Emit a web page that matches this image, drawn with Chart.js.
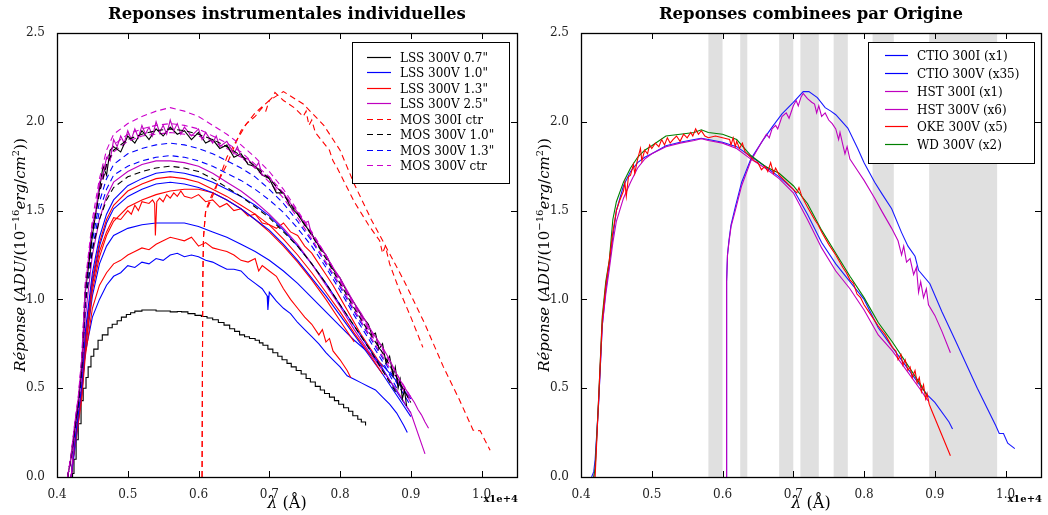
<!DOCTYPE html>
<html>
<head>
<meta charset="utf-8">
<script src="https://cdn.jsdelivr.net/npm/chart.js@4.4.1/dist/chart.umd.min.js"></script>
<style>
  body { margin: 0; background: #fff; }
  #wrap { position: relative; width: 1048px; height: 515px; }
  canvas { position: absolute; top: 0; }
</style>
</head>
<body>
<div id="wrap">
  <canvas id="left" width="524" height="515" style="left:0"></canvas>
  <canvas id="right" width="524" height="515" style="left:524px"></canvas>
</div>
<script>
// ---- axes / ticks ----
const xTicks = [0.4, 0.5, 0.6, 0.7, 0.8, 0.9, 1.0];
const xTickLabels = ["0.4", "0.5", "0.6", "0.7", "0.8", "0.9", "1.0"];
const yTicks = [0, 0.5, 1.0, 1.5, 2.0, 2.5];
const yTickLabels = ["0.0", "0.5", "1.0", "1.5", "2.0", "2.5"];

// ---- left panel: individual responses (lambda in 1e4 A) ----
const lamL = [0.415,0.42,0.425,0.43,0.435,0.44,0.45,0.46,0.47,0.48,0.5,0.52,0.54,0.56,0.58,0.6,0.62,0.64,0.66,0.68,0.7,0.72,0.74,0.76,0.78,0.8,0.82,0.84,0.86,0.88,0.9,0.92,0.925];

const mosCtrA = [0,0.13,0.3,0.45,0.68,1.1,1.45,1.68,1.84,1.93,1.99,2.03,2.06,2.08,2.06,2.03,1.98,1.93,1.87,1.8,1.72,1.62,1.5,1.38,1.25,1.11,0.97,0.84,0.72,0.58,0.45];
const mosCtrB = [0,0.12,0.29,0.44,0.66,1.08,1.41,1.63,1.79,1.87,1.93,1.96,1.98,1.99,1.98,1.96,1.92,1.88,1.83,1.76,1.69,1.6,1.49,1.37,1.24,1.1,0.96,0.83,0.7,0.56,0.43];
const mosCtrC = [0,0.11,0.28,0.43,0.64,1.05,1.38,1.6,1.75,1.83,1.89,1.92,1.93,1.94,1.93,1.92,1.89,1.85,1.8,1.74,1.66,1.57,1.46,1.34,1.21,1.08,0.94,0.81,0.68,0.55,0.42];
const lss25B = [null,0,0.25,0.4,0.58,0.9,1.25,1.45,1.58,1.66,1.72,1.76,1.78,1.78,1.77,1.75,1.71,1.66,1.61,1.55,1.48,1.4,1.31,1.2,1.08,0.96,0.83,0.71,0.6,0.49,0.36,0.13];
const mos10A = [0,0.12,0.28,0.42,0.64,1.06,1.38,1.6,1.76,1.84,1.9,1.93,1.95,1.96,1.95,1.93,1.9,1.86,1.81,1.75,1.68,1.59,1.48,1.36,1.23,1.09,0.95,0.82,0.7,0.56,0.42];
const mos10B = [0,0.1,0.26,0.4,0.6,0.98,1.28,1.45,1.56,1.63,1.69,1.72,1.74,1.75,1.74,1.72,1.68,1.63,1.58,1.52,1.46,1.38,1.3,1.2,1.09,0.97,0.85,0.73,0.6,0.47];
const mos13A = [0,0.11,0.27,0.41,0.62,1.02,1.33,1.55,1.68,1.76,1.82,1.85,1.87,1.88,1.87,1.85,1.82,1.78,1.74,1.69,1.62,1.54,1.44,1.33,1.2,1.07,0.93,0.8,0.67,0.53,0.4];
const mos13B = [0,0.11,0.26,0.4,0.6,0.97,1.28,1.5,1.62,1.7,1.75,1.78,1.8,1.81,1.8,1.78,1.75,1.71,1.67,1.62,1.56,1.49,1.4,1.3,1.18,1.05,0.91,0.78,0.65,0.5];
const lss10A = [null,0,0.2,0.35,0.52,0.82,1.15,1.35,1.48,1.56,1.64,1.68,1.71,1.72,1.71,1.69,1.66,1.62,1.58,1.53,1.47,1.39,1.3,1.2,1.09,0.97,0.85,0.73,0.61,0.48,0.36];
const lss10B = [null,0,0.19,0.34,0.5,0.78,1.1,1.3,1.43,1.51,1.58,1.62,1.65,1.66,1.65,1.63,1.6,1.56,1.51,1.45,1.39,1.31,1.22,1.12,1.02,0.91,0.8,0.69,0.58,0.46,0.34];
const lss10C = [null,0,0.18,0.32,0.47,0.72,1.02,1.2,1.3,1.36,1.4,1.42,1.43,1.43,1.43,1.41,1.38,1.35,1.31,1.27,1.22,1.16,1.09,1.01,0.93,0.85,0.77,0.7,0.63,0.54,0.44];
const lss13Step = [null,0,0.2,0.34,0.5,0.78,1.12,1.32,1.45,1.53,1.61,1.65,1.68,1.69,1.68,1.66,1.62,1.58,1.53,1.48,1.42,1.34,1.25,1.15,1.04,0.93,0.81,0.7,0.58];
const lss13Smooth = [null,0,0.18,0.32,0.46,0.72,1.05,1.24,1.36,1.44,1.52,1.56,1.59,1.61,1.62,1.62,1.6,1.56,1.51,1.45,1.38,1.3,1.21,1.11,1.0,0.88,0.76];

// noisy / irregular curves as (lambda, response) pairs
const lss25A = [[0.415,0],[0.42,0.12],[0.425,0.3],[0.43,0.44],[0.435,0.65],[0.44,1.06],[0.445,1.25],[0.45,1.42],[0.455,1.5],[0.46,1.66],[0.465,1.7],[0.47,1.8],[0.475,1.78],[0.48,1.9],[0.485,1.86],[0.49,1.92],[0.495,1.88],[0.5,1.95],[0.505,1.9],[0.51,1.96],[0.515,1.91],[0.52,1.98],[0.525,1.93],[0.53,1.97],[0.535,1.92],[0.54,2.0],[0.545,1.94],[0.55,1.98],[0.555,1.93],[0.56,2.01],[0.565,1.95],[0.57,1.99],[0.575,1.93],[0.58,1.97],[0.59,1.92],[0.6,1.96],[0.605,1.9],[0.61,1.94],[0.62,1.88],[0.625,1.92],[0.63,1.86],[0.64,1.89],[0.65,1.82],[0.655,1.86],[0.66,1.8],[0.67,1.79],[0.68,1.74],[0.685,1.77],[0.69,1.7],[0.7,1.69],[0.71,1.63],[0.72,1.6],[0.73,1.54],[0.74,1.49],[0.75,1.43],[0.755,1.44],[0.76,1.36],[0.77,1.31],[0.78,1.25],[0.79,1.18],[0.8,1.12],[0.81,1.05],[0.82,0.98],[0.83,0.92],[0.84,0.85],[0.85,0.79],[0.86,0.73],[0.87,0.66],[0.88,0.58],[0.89,0.51],[0.9,0.45],[0.905,0.42],[0.91,0.38],[0.915,0.35],[0.92,0.31],[0.925,0.275]];
const lss07A = [[0.42,0],[0.422,0.02],[0.424,0.1],[0.427,0.21],[0.43,0.3],[0.434,0.43],[0.437,0.5],[0.441,0.56],[0.444,0.62],[0.448,0.68],[0.452,0.72],[0.458,0.77],[0.464,0.8],[0.472,0.84],[0.478,0.86],[0.485,0.88],[0.491,0.9],[0.498,0.915],[0.504,0.925],[0.51,0.934],[0.52,0.94],[0.528,0.94],[0.54,0.935],[0.55,0.935],[0.56,0.93],[0.57,0.932],[0.576,0.93],[0.585,0.92],[0.595,0.91],[0.604,0.904],[0.612,0.895],[0.62,0.885],[0.628,0.87],[0.636,0.855],[0.644,0.835],[0.651,0.82],[0.658,0.8],[0.665,0.79],[0.672,0.78],[0.68,0.77],[0.686,0.755],[0.691,0.742],[0.698,0.72],[0.705,0.7],[0.712,0.68],[0.718,0.66],[0.725,0.64],[0.731,0.62],[0.738,0.6],[0.745,0.58],[0.752,0.555],[0.758,0.535],[0.765,0.51],[0.772,0.49],[0.778,0.47],[0.785,0.45],[0.792,0.43],[0.798,0.41],[0.805,0.39],[0.812,0.37],[0.818,0.345],[0.825,0.325],[0.83,0.31],[0.836,0.29]];
const lss07B = [[0.415,0],[0.42,0.11],[0.425,0.27],[0.43,0.42],[0.435,0.62],[0.44,1.04],[0.45,1.36],[0.46,1.62],[0.465,1.75],[0.47,1.7],[0.475,1.84],[0.48,1.86],[0.49,1.83],[0.5,1.92],[0.51,1.88],[0.52,1.95],[0.53,1.9],[0.54,1.96],[0.55,1.92],[0.56,1.97],[0.57,1.93],[0.58,1.95],[0.59,1.9],[0.6,1.94],[0.61,1.88],[0.62,1.9],[0.63,1.85],[0.64,1.87],[0.65,1.8],[0.66,1.82],[0.67,1.76],[0.68,1.75],[0.69,1.7],[0.7,1.68],[0.71,1.6],[0.72,1.6],[0.73,1.52],[0.74,1.48],[0.75,1.42],[0.76,1.37],[0.77,1.3],[0.78,1.25],[0.79,1.17],[0.8,1.12],[0.81,1.04],[0.82,0.98],[0.83,0.91],[0.84,0.86],[0.845,0.8],[0.85,0.81],[0.855,0.72],[0.86,0.75],[0.865,0.64],[0.87,0.68],[0.875,0.57],[0.878,0.62],[0.882,0.5],[0.885,0.55],[0.888,0.44],[0.891,0.49],[0.894,0.4]];
const lss10Noisy = [[0.42,0],[0.425,0.15],[0.43,0.3],[0.435,0.5],[0.44,0.7],[0.45,0.9],[0.46,1.0],[0.47,1.08],[0.48,1.13],[0.49,1.15],[0.5,1.19],[0.51,1.18],[0.52,1.21],[0.53,1.2],[0.54,1.23],[0.55,1.22],[0.56,1.25],[0.57,1.26],[0.58,1.24],[0.59,1.25],[0.6,1.24],[0.61,1.22],[0.62,1.21],[0.63,1.19],[0.64,1.17],[0.65,1.17],[0.66,1.16],[0.67,1.12],[0.68,1.09],[0.69,1.06],[0.697,1.02],[0.698,0.94],[0.7,1.04],[0.71,0.99],[0.72,0.95],[0.73,0.92],[0.74,0.87],[0.75,0.83],[0.76,0.79],[0.77,0.75],[0.78,0.7],[0.79,0.66],[0.8,0.62],[0.81,0.57],[0.82,0.55],[0.83,0.53],[0.84,0.51],[0.85,0.49],[0.86,0.45],[0.87,0.41],[0.88,0.36],[0.89,0.29],[0.895,0.25]];
const lss13Noisy = [[0.42,0],[0.425,0.19],[0.43,0.33],[0.435,0.48],[0.44,0.75],[0.45,1.08],[0.46,1.27],[0.47,1.38],[0.475,1.42],[0.48,1.46],[0.49,1.45],[0.5,1.5],[0.505,1.48],[0.51,1.53],[0.515,1.5],[0.52,1.55],[0.53,1.54],[0.535,1.56],[0.538,1.54],[0.539,1.36],[0.541,1.55],[0.545,1.57],[0.55,1.55],[0.555,1.59],[0.56,1.57],[0.565,1.6],[0.57,1.58],[0.575,1.61],[0.58,1.58],[0.59,1.57],[0.6,1.59],[0.61,1.55],[0.62,1.56],[0.63,1.52],[0.64,1.54],[0.65,1.5],[0.66,1.51],[0.67,1.47],[0.68,1.48],[0.69,1.43],[0.7,1.42],[0.71,1.4],[0.72,1.43],[0.73,1.38],[0.74,1.36],[0.75,1.3],[0.76,1.26],[0.77,1.2],[0.78,1.14],[0.79,1.08],[0.8,1.01],[0.81,0.94],[0.82,0.87],[0.83,0.8],[0.84,0.74],[0.85,0.68],[0.86,0.62]];
const lss13Low = [[0.42,0],[0.425,0.17],[0.43,0.3],[0.435,0.44],[0.44,0.68],[0.45,0.95],[0.46,1.08],[0.47,1.15],[0.48,1.2],[0.49,1.22],[0.5,1.25],[0.51,1.27],[0.52,1.29],[0.53,1.28],[0.54,1.31],[0.55,1.33],[0.56,1.35],[0.57,1.34],[0.58,1.33],[0.59,1.35],[0.6,1.3],[0.61,1.32],[0.62,1.29],[0.63,1.28],[0.64,1.27],[0.65,1.25],[0.66,1.22],[0.67,1.21],[0.68,1.23],[0.685,1.16],[0.69,1.19],[0.7,1.16],[0.71,1.13],[0.72,1.06],[0.73,1.0],[0.74,0.95],[0.75,0.9],[0.76,0.86],[0.77,0.8],[0.775,0.83],[0.78,0.76],[0.785,0.78],[0.79,0.71],[0.8,0.66],[0.81,0.6],[0.815,0.56]];
const mos300IA = [[0.605,0],[0.6055,0.6],[0.606,1.1],[0.607,1.35],[0.61,1.49],[0.624,1.62],[0.64,1.8],[0.653,1.89],[0.668,1.99],[0.68,2.03],[0.69,2.08],[0.695,2.06],[0.7,2.12],[0.705,2.14],[0.708,2.165],[0.72,2.12],[0.735,2.08],[0.748,2.03],[0.752,2.06],[0.756,1.98],[0.76,2.01],[0.765,1.94],[0.777,1.88],[0.785,1.84],[0.79,1.78],[0.796,1.74],[0.82,1.55],[0.84,1.42],[0.856,1.33],[0.86,1.26],[0.864,1.3],[0.87,1.2],[0.884,1.05],[0.9,0.9],[0.917,0.73]];
const mos300IB = [[0.605,0],[0.6055,0.6],[0.606,1.1],[0.607,1.35],[0.61,1.5],[0.62,1.6],[0.64,1.76],[0.66,1.95],[0.68,2.05],[0.7,2.12],[0.72,2.17],[0.748,2.1],[0.777,1.98],[0.8,1.84],[0.82,1.65],[0.844,1.45],[0.867,1.28],[0.891,1.1],[0.92,0.86],[0.946,0.62],[0.968,0.44],[0.988,0.264],[0.998,0.26],[1.012,0.15]];

// ---- right panel: combined responses ----
const lamV = [0.415,0.418,0.42,0.425,0.43,0.435,0.44,0.445,0.45,0.46,0.47,0.48,0.49,0.5,0.52,0.54,0.56,0.57,0.58,0.6,0.62,0.64,0.66,0.68,0.7,0.72,0.74,0.76,0.78,0.8,0.82,0.84,0.86,0.88,0.89,0.9,0.92,0.925];
const ctio300V = [0,0.03,0.1,0.42,0.85,1.05,1.2,1.35,1.5,1.64,1.72,1.77,1.8,1.82,1.865,1.885,1.9,1.907,1.9,1.885,1.86,1.805,1.75,1.69,1.62,1.48,1.32,1.2,1.1,1.0,0.84,0.73,0.62,0.51,0.46,0.42,0.31,0.27];
const hst300V = [null,0,0.05,0.43,0.85,1.03,1.17,1.32,1.44,1.57,1.66,1.74,1.79,1.82,1.86,1.88,1.895,1.905,1.895,1.88,1.85,1.79,1.74,1.68,1.6,1.45,1.29,1.16,1.06,0.94,0.8,0.71,0.6,0.49,0.43];
const wd300V = [null,0,0.05,0.45,0.9,1.1,1.22,1.45,1.55,1.66,1.74,1.8,1.84,1.865,1.92,1.93,1.94,1.955,1.94,1.93,1.9,1.81,1.75,1.71,1.64,1.54,1.39,1.26,1.13,1.01,0.87,0.76,0.64,0.52,0.45];
const oke300V = [[0.42,0],[0.425,0.45],[0.43,0.88],[0.435,1.08],[0.44,1.22],[0.445,1.38],[0.45,1.5],[0.455,1.56],[0.46,1.61],[0.462,1.66],[0.464,1.58],[0.467,1.69],[0.47,1.7],[0.474,1.76],[0.476,1.71],[0.48,1.79],[0.484,1.85],[0.486,1.78],[0.49,1.84],[0.494,1.82],[0.497,1.87],[0.5,1.85],[0.505,1.88],[0.51,1.86],[0.514,1.9],[0.518,1.87],[0.522,1.91],[0.526,1.88],[0.53,1.9],[0.535,1.92],[0.54,1.89],[0.545,1.93],[0.55,1.91],[0.555,1.94],[0.558,1.92],[0.562,1.96],[0.566,1.93],[0.57,1.95],[0.575,1.92],[0.58,1.91],[0.59,1.92],[0.6,1.91],[0.61,1.9],[0.612,1.87],[0.615,1.91],[0.618,1.86],[0.62,1.89],[0.624,1.85],[0.628,1.88],[0.632,1.83],[0.64,1.8],[0.645,1.78],[0.65,1.77],[0.655,1.73],[0.66,1.75],[0.664,1.72],[0.668,1.77],[0.672,1.71],[0.675,1.74],[0.68,1.7],[0.69,1.66],[0.7,1.62],[0.705,1.6],[0.708,1.63],[0.712,1.58],[0.72,1.52],[0.73,1.45],[0.735,1.42],[0.74,1.38],[0.75,1.31],[0.76,1.25],[0.77,1.18],[0.775,1.15],[0.78,1.11],[0.785,1.09],[0.79,1.03],[0.795,1.01],[0.8,0.97],[0.81,0.91],[0.82,0.85],[0.83,0.8],[0.84,0.73],[0.845,0.71],[0.848,0.66],[0.852,0.69],[0.855,0.63],[0.858,0.66],[0.862,0.6],[0.865,0.62],[0.868,0.56],[0.872,0.6],[0.875,0.53],[0.878,0.56],[0.881,0.48],[0.884,0.52],[0.887,0.44],[0.889,0.47],[0.892,0.41],[0.896,0.37],[0.922,0.12]];
const ctio300I = [[0.605,0],[0.6055,0.6],[0.606,1.1],[0.607,1.25],[0.609,1.33],[0.612,1.42],[0.618,1.52],[0.627,1.66],[0.64,1.79],[0.656,1.89],[0.67,1.97],[0.684,2.045],[0.7,2.11],[0.714,2.17],[0.722,2.17],[0.734,2.136],[0.745,2.08],[0.753,2.06],[0.76,2.04],[0.777,1.965],[0.791,1.85],[0.8,1.77],[0.815,1.66],[0.826,1.59],[0.839,1.51],[0.853,1.376],[0.862,1.3],[0.872,1.243],[0.877,1.164],[0.893,1.088],[0.91,0.93],[0.93,0.76],[0.96,0.5],[0.986,0.29],[0.991,0.245],[0.997,0.245],[1.003,0.19],[1.013,0.16]];
const hst300I = [[0.605,0],[0.6055,0.6],[0.606,1.1],[0.607,1.25],[0.609,1.32],[0.612,1.41],[0.618,1.5],[0.627,1.64],[0.64,1.78],[0.65,1.85],[0.656,1.89],[0.662,1.93],[0.666,1.91],[0.67,1.96],[0.675,1.98],[0.678,1.96],[0.684,2.03],[0.69,2.05],[0.694,2.02],[0.7,2.09],[0.704,2.12],[0.707,2.09],[0.711,2.14],[0.714,2.16],[0.72,2.13],[0.726,2.11],[0.73,2.1],[0.733,2.05],[0.736,2.09],[0.74,2.03],[0.745,2.05],[0.75,2.01],[0.755,1.99],[0.76,1.96],[0.764,1.9],[0.766,1.94],[0.77,1.87],[0.773,1.82],[0.776,1.86],[0.78,1.79],[0.79,1.73],[0.8,1.67],[0.815,1.57],[0.826,1.49],[0.839,1.4],[0.848,1.33],[0.853,1.25],[0.856,1.3],[0.86,1.21],[0.865,1.23],[0.87,1.14],[0.874,1.18],[0.877,1.04],[0.88,1.1],[0.884,1.01],[0.888,1.06],[0.891,0.97],[0.9,0.91],[0.91,0.82],[0.922,0.7]];

// telluric bands (shaded)
const bandStart = [0.58, 0.625, 0.68, 0.71, 0.757, 0.812, 0.892];
const bandEnd   = [0.60, 0.635, 0.70, 0.736, 0.777, 0.842, 0.988];

// legends
const legLeftLabels = ['LSS 300V 0.7"', 'LSS 300V 1.0"', 'LSS 300V 1.3"', 'LSS 300V 2.5"', 'MOS 300I ctr', 'MOS 300V 1.0"', 'MOS 300V 1.3"', 'MOS 300V ctr'];
const legLeftColors = ['#000000', '#0000ff', '#ff0000', '#bf00bf', '#ff0000', '#000000', '#0000ff', '#cc00cc'];
const legLeftDashed = [false, false, false, false, true, true, true, true];
const legRightLabels = ['CTIO 300I (x1)', 'CTIO 300V (x35)', 'HST 300I (x1)', 'HST 300V (x6)', 'OKE 300V (x5)', 'WD 300V (x2)'];
const legRightColors = ['#0000ff', '#0000ff', '#bf00bf', '#bf00bf', '#ff0000', '#008000'];
const legRightDashed = [false, false, false, false, false, false];

const SERIF = '"DejaVu Serif", serif';

// per-panel layout (kept out of Chart options so arrays stay plain)
const panels = {
  left: {
    title: 'Reponses instrumentales individuelles', bands: false,
    legend: { x: 352, y: 42, w: 157, h: 141, row0: 57, rowH: 15.45, lx0: 15, lx1: 39, tx: 48,
      labels: legLeftLabels, colors: legLeftColors, dashed: legLeftDashed }
  },
  right: {
    title: 'Reponses combinees par Origine', bands: true,
    legend: { x: 344, y: 42, w: 166, h: 121, row0: 55, rowH: 17.85, lx0: 17, lx1: 40, tx: 49,
      labels: legRightLabels, colors: legRightColors, dashed: legRightDashed }
  }
};

function fromGrid(grid, vals) { return vals.map((v, i) => ({ x: grid[i], y: v })); }
function fromPairs(p) { return p.map(([x, y]) => ({ x, y })); }
function line(data, color, dashed, extra) {
  return Object.assign({
    data, borderColor: color, borderWidth: 1.1, borderDash: dashed ? [6, 4] : [],
    pointRadius: 0, fill: false, tension: 0
  }, extra || {});
}

const leftDatasets = [
  line(fromGrid(lamL, mosCtrA), '#cc00cc', true),
  line(fromGrid(lamL, mos10A), '#000000', true),
  line(fromPairs(lss25A), '#bf00bf', false),
  line(fromPairs(lss07B), '#000000', false),
  line(fromGrid(lamL, mosCtrB), '#cc00cc', true),
  line(fromGrid(lamL, mosCtrC), '#cc00cc', true),
  line(fromGrid(lamL, mos13A), '#0000ff', true),
  line(fromGrid(lamL, mos10B), '#000000', true),
  line(fromGrid(lamL, mos13B), '#0000ff', true),
  line(fromGrid(lamL, lss25B), '#bf00bf', false),
  line(fromPairs(mos300IA), '#ff0000', true),
  line(fromPairs(mos300IB), '#ff0000', true),
  line(fromGrid(lamL, lss10A), '#0000ff', false),
  line(fromGrid(lamL, lss13Step), '#ff0000', false),
  line(fromGrid(lamL, lss10B), '#0000ff', false),
  line(fromPairs(lss13Noisy), '#ff0000', false),
  line(fromGrid(lamL, lss13Smooth), '#ff0000', false),
  line(fromGrid(lamL, lss10C), '#0000ff', false),
  line(fromPairs(lss13Low), '#ff0000', false),
  line(fromPairs(lss10Noisy), '#0000ff', false),
  line(fromPairs(lss07A), '#000000', false, { stepped: 'before' })
];

const rightDatasets = [
  line(fromPairs(oke300V), '#ff0000', false),
  line(fromGrid(lamV, wd300V), '#008000', false),
  line(fromPairs(hst300I), '#bf00bf', false),
  line(fromGrid(lamV, hst300V), '#bf00bf', false),
  line(fromPairs(ctio300I), '#1a1aff', false),
  line(fromGrid(lamV, ctio300V), '#1a1aff', false)
];

function drawYLabel(ctx, cx, cy) {
  const parts = [['Réponse ', 'i'], ['(', 'n'], ['ADU', 'i'], ['/(10', 'n'], ['\u221216', 's'], ['erg', 'i'], ['/', 'n'], ['cm', 'i'], ['2', 's'], ['))', 'n']];
  const fonts = { i: 'italic 15px ' + SERIF, n: '15px ' + SERIF, s: '10px ' + SERIF };
  ctx.save();
  ctx.translate(cx, cy);
  ctx.rotate(-Math.PI / 2);
  ctx.textAlign = 'left';
  ctx.textBaseline = 'alphabetic';
  let total = 0;
  parts.forEach(([t, f]) => { ctx.font = fonts[f]; total += ctx.measureText(t).width; });
  let x = -total / 2;
  ctx.fillStyle = '#000';
  parts.forEach(([t, f]) => {
    ctx.font = fonts[f];
    ctx.fillText(t, x, f === 's' ? -1 : 5);
    x += ctx.measureText(t).width;
  });
  ctx.restore();
}

const framePlugin = {
  id: 'frame',
  beforeDatasetsDraw(chart) {
    const P = panels[chart.canvas.id];
    if (!P.bands) return;
    const { ctx, chartArea: a, scales: { x } } = chart;
    ctx.save();
    ctx.fillStyle = '#e0e0e0';
    bandStart.forEach((s, i) => {
      const x0 = x.getPixelForValue(s), x1 = x.getPixelForValue(bandEnd[i]);
      ctx.fillRect(x0, a.top, x1 - x0, a.bottom - a.top);
    });
    ctx.restore();
  },
  afterDraw(chart) {
    const P = panels[chart.canvas.id];
    const { ctx, chartArea: a, scales: { x, y } } = chart;
    ctx.save();
    // inward ticks on all four sides
    ctx.strokeStyle = '#000';
    ctx.lineWidth = 1;
    ctx.beginPath();
    xTicks.forEach(v => {
      const px = Math.round(x.getPixelForValue(v)) + 0.5;
      ctx.moveTo(px, a.bottom); ctx.lineTo(px, a.bottom - 6);
      ctx.moveTo(px, a.top); ctx.lineTo(px, a.top + 6);
    });
    yTicks.forEach(v => {
      const py = Math.round(y.getPixelForValue(v)) + 0.5;
      ctx.moveTo(a.left, py); ctx.lineTo(a.left + 6, py);
      ctx.moveTo(a.right, py); ctx.lineTo(a.right - 6, py);
    });
    ctx.stroke();
    // frame
    ctx.lineWidth = 1.3;
    ctx.strokeRect(Math.round(a.left) + 0.5, Math.round(a.top) + 0.5, Math.round(a.right - a.left), Math.round(a.bottom - a.top));

    // legend
    const L = P.legend;
    ctx.fillStyle = '#fff';
    ctx.fillRect(L.x, L.y, L.w, L.h);
    ctx.lineWidth = 1;
    ctx.strokeStyle = '#000';
    ctx.strokeRect(L.x + 0.5, L.y + 0.5, L.w, L.h);
    ctx.font = '12px ' + SERIF;
    ctx.textBaseline = 'middle';
    ctx.textAlign = 'left';
    L.labels.forEach((t, i) => {
      const ry = Math.round(L.row0 + i * L.rowH) + 0.5;
      ctx.strokeStyle = L.colors[i];
      ctx.lineWidth = 1.2;
      ctx.setLineDash(L.dashed[i] ? [6, 4] : []);
      ctx.beginPath();
      ctx.moveTo(L.x + L.lx0, ry); ctx.lineTo(L.x + L.lx1, ry);
      ctx.stroke();
      ctx.fillStyle = '#000';
      ctx.fillText(t, L.x + L.tx, ry + 1);
    });
    ctx.setLineDash([]);

    // title
    const cx = (a.left + a.right) / 2;
    ctx.fillStyle = '#000';
    ctx.textAlign = 'center';
    ctx.textBaseline = 'alphabetic';
    ctx.font = 'bold 16.5px ' + SERIF;
    ctx.fillText(P.title, cx, 19);

    // x label: lambda (A)
    ctx.font = 'italic 16px ' + SERIF;
    const w1 = ctx.measureText('\u03bb').width;
    ctx.font = '16px ' + SERIF;
    const w2 = ctx.measureText(' (\u00c5)').width;
    ctx.textAlign = 'left';
    ctx.font = 'italic 16px ' + SERIF;
    ctx.fillText('\u03bb', cx - (w1 + w2) / 2, 508);
    ctx.font = '16px ' + SERIF;
    ctx.fillText(' (\u00c5)', cx - (w1 + w2) / 2 + w1, 508);

    // offset text
    ctx.font = 'bold 10px ' + SERIF;
    ctx.textAlign = 'right';
    ctx.fillText('x1e+4', a.right + 1, 502);

    drawYLabel(ctx, 20, (a.top + a.bottom) / 2);
    ctx.restore();
  }
};

function panelOptions() {
  const tickFont = { family: SERIF, size: 12 };
  return {
    responsive: false,
    animation: false,
    events: [],
    layout: { padding: { left: 0, right: 7, top: 33, bottom: 0 } },
    plugins: { legend: { display: false }, tooltip: { enabled: false } },
    scales: {
      x: {
        type: 'linear', min: 0.4, max: 1.05,
        grid: { display: false }, border: { display: false },
        afterBuildTicks: ax => { ax.ticks = xTicks.map(v => ({ value: v })); },
        afterFit: ax => { ax.height = 38; },
        ticks: { padding: 3, color: '#222', font: tickFont, maxRotation: 0, autoSkip: false,
          callback: (v, i) => xTickLabels[i] }
      },
      y: {
        type: 'linear', min: 0, max: 2.5,
        grid: { display: false }, border: { display: false },
        afterBuildTicks: ax => { ax.ticks = yTicks.map(v => ({ value: v })); },
        afterFit: ax => { ax.width = 57; },
        ticks: { padding: 4, color: '#222', font: tickFont,
          callback: (v, i) => yTickLabels[i] }
      }
    }
  };
}

new Chart(document.getElementById('left'), {
  type: 'line',
  data: { datasets: leftDatasets },
  options: panelOptions(),
  plugins: [framePlugin]
});

new Chart(document.getElementById('right'), {
  type: 'line',
  data: { datasets: rightDatasets },
  options: panelOptions(),
  plugins: [framePlugin]
});
</script>
</body>
</html>
